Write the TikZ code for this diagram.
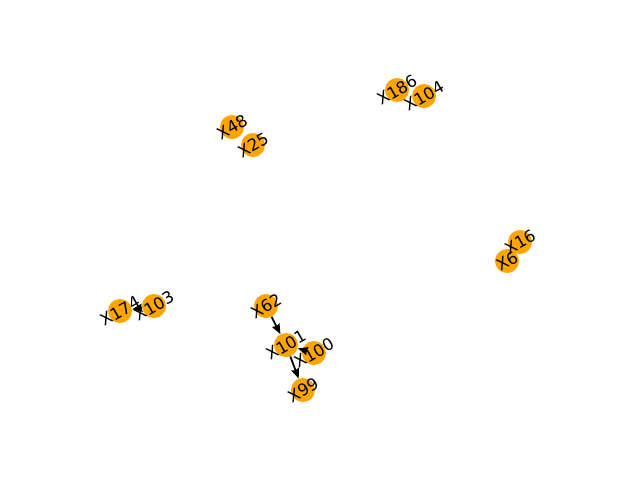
\documentclass[tikz,border=0pt]{standalone}
\usepackage{fontspec}
\setmainfont{DejaVu Sans}
\usetikzlibrary{arrows.meta}
\begin{document}
\begin{tikzpicture}[x=1pt,y=-1pt,
  vert/.style={circle,fill={rgb,255:red,255;green,165;blue,0},minimum size=24pt,inner sep=0pt},
  lab/.style={rotate=30,inner sep=0pt,font=\fontsize{16.5}{18}\selectfont},
  edge/.style={-{Stealth[length=10pt,width=8pt,inset=1pt]},line width=1.8pt,black}]
\fill[white] (0,0) rectangle (640,480);
\useasboundingbox (0,0) rectangle (640,480);
\node[vert] (n48) at (232,127) {};
\node[vert] (n25) at (253,145) {};
\node[vert] (n186) at (397,90) {};
\node[vert] (n104) at (424,96) {};
\node[vert] (n16) at (520,242) {};
\node[vert] (n6) at (507,261) {};
\node[vert] (n174) at (120,311) {};
\node[vert] (n103) at (154,306) {};
\node[vert] (n62) at (266,306) {};
\node[vert] (n101) at (286,345) {};
\node[vert] (n100) at (314,353) {};
\node[vert] (n99) at (303,390) {};
\draw[edge] (n62) -- (n101);
\draw[edge] (n101) -- (n99);
\draw[edge] (n100) -- (n101);
\draw[edge] (n103) -- (n174);
\node[lab] (l48) at (n48) {X48};
\node[lab] (l25) at (n25) {X25};
\node[lab] (l186) at (n186) {X186};
\node[lab] (l104) at (n104) {X104};
\node[lab] (l16) at (n16) {X16};
\node[lab] (l6) at (n6) {X6};
\node[lab] (l174) at (n174) {X174};
\node[lab] (l103) at (n103) {X103};
\node[lab] (l62) at (n62) {X62};
\node[lab] (l101) at (n101) {X101};
\node[lab] (l100) at (n100) {X100};
\node[lab] (l99) at (n99) {X99};
\end{tikzpicture}
\end{document}
